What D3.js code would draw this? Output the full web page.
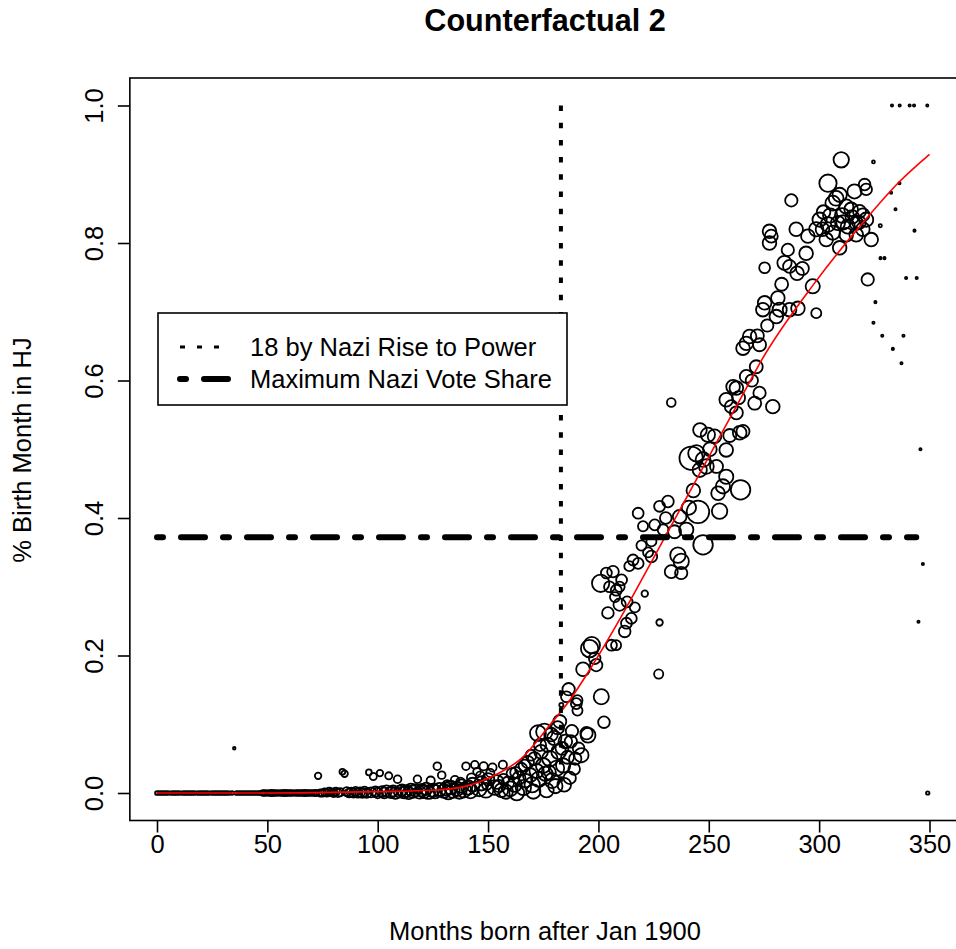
<!DOCTYPE html>
<html>
<head>
<meta charset="utf-8">
<script src="https://cdn.jsdelivr.net/npm/d3@7"></script>
<style>
  body { margin: 0; background: #fff; }
  text { font-family: "Liberation Sans", Arial, sans-serif; fill: #000; }
</style>
</head>
<body>
<div id="chart-area"></div>
<script>
// [month, share in HJ, respondents]
const earlyPts = [
  [0,0,9],[1,0,8],[2,0,9],[3,0,8],[4,0,9],[5,0,8],[6,0,7],[7,0,9],[8,0,8],[9,0,9],
  [10,0,8],[11,0,7],[12,0,9],[13,0,8],[14,0,9],[15,0,8],[16,0,9],[17,0,8],[18,0,7],[19,0,9],
  [20,0,8],[21,0,9],[22,0,8],[23,0,9],[24,0,7],[25,0,8],[26,0,9],[27,0,8],[28,0,9],[29,0,8],
  [30,0,9],[31,0,8],[32,0,9],[33,0,7],[34,0,8],[35,0.065,4],[36,0,9],[37,0,8],[38,0,9],[39,0,8],
  [40,0,9],[41,0,8],[42,0,9],[43,0,8],[44,0,9],[45,0,8],[46,0,9],[47,0,10]
];
const midPts = [
  [48,0,18],[49,0,20],[50,0,16],[51,0,18],[52,0,22],[53,0,18],[54,0,20],[55,0,17],[56,0,19],[57,0,18],
  [58,0,22],[59,0,18],[60,0,20],[61,0,18],[62,0,16],[63,0,19],[64,0,18],[65,0,20],[66,0,18],[67,0,22],
  [68,0,19],[69,0,18],[70,0,20],[71,0,18],[72,0,22],[73,0.025,25],[74,0,30],[75,0,32],[76,0.001,34],[77,0,32],
  [78,0.002,38],[79,0.001,36],[80,0,40],[81,0.002,38],[82,0,42],[83,0.001,40],[84,0.031,20],[85,0.028,25],[86,0.002,46],[87,0,44],
  [88,0.001,50],[89,0,48],[90,0.002,52],[91,0,50],[92,0.001,56],[93,0,54],[94,0.002,58],[95,0,56],[96,0.03,20],[97,0.001,60],
  [98,0.024,30],[99,0.002,62]
];
const bandPts = [
  [100,0,66],[101,0.029,25],[102,0.002,70],[103,0,68],[104,0.003,74],[105,0.025,30],[106,0.001,78],[107,0.003,72],[108,0,80],[109,0.02,35],
  [110,0.002,84],[111,0.004,78],[112,0.001,88],[113,0.003,82],[114,0,90],[115,0.005,86],[116,0.002,92],[117,0.004,88],[118,0.02,35],[119,0.001,96],
  [120,0.004,92],[121,0.002,100],[122,0.006,90],[123,0.001,104],[124,0.018,40],[125,0.004,100],[126,0.002,108],[127,0.039,35],[128,0.005,104],[129,0.026,35],
  [130,0.003,112],[131,0.006,104],[132,0.001,116],[133,0.008,108],[134,0.003,112],[135,0.019,40],[136,0.006,116],[137,0.002,120],[138,0.01,110],[139,0.004,124],
  [140,0.039,35],[141,0.008,120],[142,0.003,128],[143,0.012,116],[144,0.041,35],[145,0.031,35],[146,0.006,128],[147,0.014,120],[148,0.039,40],[149,0.004,132],
  [150,0.02,90],[151,0.029,40],[152,0.037,40],[153,0.008,130],[154,0.016,110],[131.5,0.012,50],[137.5,0.016,45],[142.5,0.022,50],[146.5,0.025,45],[149.5,0.012,60]
];
const cloudPts = [
  [155,0.010,90],[156,0.004,110],[156.7,0.041,40],[157,0.020,70],[158,0.002,120],[159,0.015,90],[160,0.006,130],[161,0.028,80],[162,0.012,120],[163,0,130],
  [164,0.022,100],[165,0.035,90],[166,0.008,140],[167,0.018,110],[168,0.045,90],[169,0.026,120],[170,0.012,140],[170.5,0.002,120],[171,0.05,100],[172,0.032,120],
  [172.6,0.087,150],[173,0.02,140],[174,0.06,110],[175,0.04,130],[175.5,0.089,160],[176,0.028,120],[176.5,0.004,120],[177,0.07,120],[178,0.05,140],[179,0.018,130],
  [180,0.08,120],[180.5,0.01,120],[181,0.036,140],[182,0.06,130],[182.5,0.104,100],[183.2,0.128,10],[184,0.04,120],[184.5,0.012,110],[185,0.075,110],[185.5,0.14,70],
  [186,0.052,100],[186.5,0.151,90],[187,0.022,90],[188,0.09,90],[189,0.035,80],[190,0.13,70],[190.5,0.12,60],[190.5,0.135,60],[191,0.065,80],
  [162.5,0.03,70],[166.5,0.04,80],[169.5,0.055,70],[173.5,0.07,90],[178.5,0.085,110],[181.5,0.095,100],[177.5,0.03,120],[183.5,0.065,100],[187.5,0.075,90],[189.5,0.05,90]
];
const risePts = [
  [192.3,0.055,120],[194.6,0.087,90],[195.3,0.084,130],[193,0.18,110],[196,0.21,178],[197,0.215,160],[199,0.186,90],[198.3,0.196,80],[201.3,0.14,136],[202.5,0.103,80],
  [201,0.305,178],[203.6,0.32,70],[204.3,0.262,80],[205.9,0.215,70],[206.6,0.322,80],[208,0.215,60],[208.1,0.295,70],[209.6,0.3,60],[209.6,0.274,90],[211.9,0.235,80],
  [212.7,0.247,70],[213,0.278,70],[214.9,0.254,70],[215.7,0.339,70],[218,0.334,70],[218,0.407,70],[220.2,0.388,60],[221,0.29,25],[224,0.366,60],[224,0.344,80],
  [227.3,0.173,50],[227.7,0.248,25],[227.7,0.417,70],[229.3,0.383,70],[231.5,0.424,80],[233,0.568,45],[233,0.322,100],[236,0.346,140],[237.5,0.337,140],[237.5,0.32,90],
  [236.8,0.402,110],[239.8,0.383,120],[242,0.487,320],[244.4,0.494,160],[245.1,0.409,300],[246,0.528,110],[247.4,0.485,130],[248.9,0.475,130],[245.9,0.47,120],[247.4,0.361,225],
  [249.6,0.521,120],[252.6,0.519,110],[254.9,0.41,140],[254.2,0.436,110],[256.4,0.446,120],[257.9,0.46,120],[257.9,0.499,110],[257.9,0.572,110],[260.2,0.562,100],[262.5,0.589,110],
  [262.5,0.553,100],[264,0.524,110],[265.5,0.526,100],[264.4,0.441,225],[261,0.591,110],[265.5,0.647,110],[267,0.654,110],[267,0.606,100],[268.5,0.664,110],[270.8,0.567,100],
  [271.5,0.62,100],[273,0.582,90],[273,0.652,100],[274.5,0.703,110],[275.3,0.713,110],[275.3,0.764,70],[277.5,0.817,110],[277.5,0.8,110],[278.3,0.81,100],[279,0.562,110],
  [280.6,0.693,110],[281.3,0.72,110],[282.1,0.703,120],[284.3,0.771,120],[285.8,0.79,90],[286.6,0.766,100],[286.6,0.703,110],[287.4,0.862,90],[289.6,0.82,110],[290,0.756,110],
  [290.4,0.705,110],[292.4,0.763,100],[294.1,0.785,110],[294.9,0.81,110],[297.1,0.737,120],[298.7,0.82,120],[298.7,0.698,60],
  [205,0.3,70],[207.5,0.285,60],[210.5,0.31,70],[214,0.33,60],[216.5,0.27,60],[219.5,0.36,60],[222.5,0.35,60],[225.5,0.39,70],[230.5,0.4,80],[234.5,0.38,100],
  [241,0.415,120],[243,0.44,110],[250.5,0.5,110],[253.5,0.475,100],[259.5,0.52,100],[263.5,0.575,100],[269.5,0.6,90],[272,0.665,100],[276.5,0.68,90],[283,0.74,100]
];
const topPts = [
  [300.2,0.834,120],[302,0.845,110],[303.2,0.805,110],[304,0.887,178],[304,0.827,130],[306.2,0.858,130],[306.2,0.815,120],[307.7,0.865,130],[308.5,0.829,120],[309.3,0.87,120],
  [309.3,0.793,110],[310,0.921,140],[310.5,0.84,130],[312.3,0.853,120],[312.3,0.812,110],[313,0.824,120],[314.5,0.849,110],[316,0.875,120],[316.8,0.829,110],[316.8,0.812,110],
  [318.3,0.846,100],[319.8,0.841,100],[319.8,0.82,110],[320.6,0.885,80],[321.3,0.878,80],[321.3,0.834,120],[322,0.747,90],[323.6,0.805,110],
  [301.5,0.82,110],[305,0.84,120],[311,0.83,120],[315,0.838,110],[318,0.83,110]
];
const sparsePts = [
  [324.6,0.918,5],[325.5,0.714,3],[324.6,0.684,3],[327.7,0.825,6],[327.8,0.778,3],[329.6,0.778,3],[328.6,0.665,3],[332.6,0.873,3],[333.4,0.646,3],[334.6,0.849,3],
  [336.4,0.887,3],[337.3,0.625,3],[338.2,0.665,3],[339.4,0.749,3],[343.2,0.818,3],[344.2,0.749,3],[345.9,0.5,3],[347,0.333,3],[345,0.249,3],[349.2,0,7],
  [333,1,3],[336.5,1,3],[341,1,3],[343,1,3],[349,1,3]
];

// fitted curve (red)
const fitMonths = [0, 50, 100, 125, 140, 155, 165, 178, 187, 196, 212, 225, 250, 267, 274, 298, 321, 336, 350];
const fitShares = [0, 0, 0.002, 0.004, 0.010, 0.029, 0.05, 0.099, 0.135, 0.179, 0.266, 0.342, 0.489, 0.589, 0.63, 0.742, 0.834, 0.888, 0.929];

const riseMonth = 183;      // 18 by Nazi rise to power
const maxVoteShare = 0.372; // maximum Nazi vote share
const voteLineEnd = 344;

const xTicks = [0, 50, 100, 150, 200, 250, 300, 350];
const yTicks = [0, 0.2, 0.4, 0.6, 0.8, 1.0];

const width = 956, height = 949;

let svg = d3.select('#chart-area').append('svg')
    .attr('width', width)
    .attr('height', height);

let x = d3.scaleLinear().domain([0, 350]).range([157, 929.5]);
let y = d3.scaleLinear().domain([0, 1]).range([793, 105.5]);
let r = d3.scaleSqrt().domain([0, 400]).range([0, 13]);

const plotLeft = x(-12.3), plotRight = x(366), plotTop = y(1.04), plotBottom = y(-0.04);

// points
const allPts = [].concat(earlyPts, midPts, bandPts, cloudPts, risePts, topPts, sparsePts);
svg.append('g').selectAll('circle').data(allPts)
    .enter().append('circle')
    .attr('cx', (d) => x(d[0]))
    .attr('cy', (d) => y(d[1]))
    .attr('r', (d) => r(d[2]))
    .attr('fill', 'none')
    .attr('stroke', '#000')
    .attr('stroke-width', 1.8);

// fitted line
let fitData = fitMonths.map((m, i) => [m, fitShares[i]]);
svg.append('path')
    .datum(fitData)
    .attr('fill', 'none')
    .attr('stroke', '#ff0000')
    .attr('stroke-width', 1.6)
    .attr('d', d3.line().x((d) => x(d[0])).y((d) => y(d[1])).curve(d3.curveMonotoneX));

// reference lines
svg.append('line')
    .attr('x1', x(riseMonth)).attr('x2', x(riseMonth))
    .attr('y1', y(1)).attr('y2', y(0))
    .attr('stroke', '#000')
    .attr('stroke-width', 4)
    .attr('stroke-dasharray', '5.5 11.7');

svg.append('line')
    .attr('x1', x(0)).attr('x2', x(voteLineEnd))
    .attr('y1', y(maxVoteShare)).attr('y2', y(maxVoteShare))
    .attr('stroke', '#000')
    .attr('stroke-width', 6)
    .attr('stroke-linecap', 'round')
    .attr('stroke-dasharray', '6 18 24 18');

// box
svg.append('rect')
    .attr('x', plotLeft).attr('y', plotTop)
    .attr('width', plotRight - plotLeft).attr('height', plotBottom - plotTop)
    .attr('fill', 'none').attr('stroke', '#000').attr('stroke-width', 1.6);

// axes
let bottomAxis = d3.axisBottom(x).tickValues(xTicks).tickSize(12).tickPadding(2);
svg.append('g')
    .attr('transform', `translate(0, ${plotBottom})`)
    .call(bottomAxis)
    .call((g) => g.select('.domain').remove())
    .call((g) => g.selectAll('line').attr('stroke-width', 1.6))
    .selectAll('text')
        .attr('font-size', '25.5px')
        .attr('font-family', '"Liberation Sans", Arial, sans-serif');

let leftAxis = d3.axisLeft(y).tickValues(yTicks).tickSize(12).tickFormat(d3.format('.1f'));
svg.append('g')
    .attr('transform', `translate(${plotLeft}, 0)`)
    .call(leftAxis)
    .call((g) => g.select('.domain').remove())
    .call((g) => g.selectAll('line').attr('stroke-width', 1.6))
    .selectAll('text')
        .attr('font-size', '25.5px')
        .attr('font-family', '"Liberation Sans", Arial, sans-serif')
        .attr('text-anchor', 'middle')
        .attr('transform', 'rotate(-90)')
        .attr('x', 0)
        .attr('y', -27)
        .attr('dy', 0);

// titles
svg.append('text')
    .attr('x', 545).attr('y', 31)
    .attr('text-anchor', 'middle')
    .attr('font-size', '30.6px')
    .attr('font-weight', 'bold')
    .text('Counterfactual 2');

svg.append('text')
    .attr('x', 545).attr('y', 940)
    .attr('text-anchor', 'middle')
    .attr('font-size', '25.5px')
    .text('Months born after Jan 1900');

svg.append('text')
    .attr('transform', 'translate(31, 450) rotate(-90)')
    .attr('text-anchor', 'middle')
    .attr('font-size', '25.5px')
    .text('% Birth Month in HJ');

// legend
let legend = svg.append('g');
legend.append('rect')
    .attr('x', 158).attr('y', 313).attr('width', 409).attr('height', 92)
    .attr('fill', '#fff').attr('stroke', '#000').attr('stroke-width', 1.6);
legend.append('line')
    .attr('x1', 180).attr('x2', 228).attr('y1', 347).attr('y2', 347)
    .attr('stroke', '#000').attr('stroke-width', 3)
    .attr('stroke-dasharray', '5 12');
legend.append('line')
    .attr('x1', 180).attr('x2', 228).attr('y1', 379).attr('y2', 379)
    .attr('stroke', '#000').attr('stroke-width', 6)
    .attr('stroke-linecap', 'round')
    .attr('stroke-dasharray', '6 18 24 18');
legend.append('text').attr('x', 250).attr('y', 356).attr('font-size', '25.5px').text('18 by Nazi Rise to Power');
legend.append('text').attr('x', 250).attr('y', 388).attr('font-size', '25.5px').text('Maximum Nazi Vote Share');
</script>
</body>
</html>
